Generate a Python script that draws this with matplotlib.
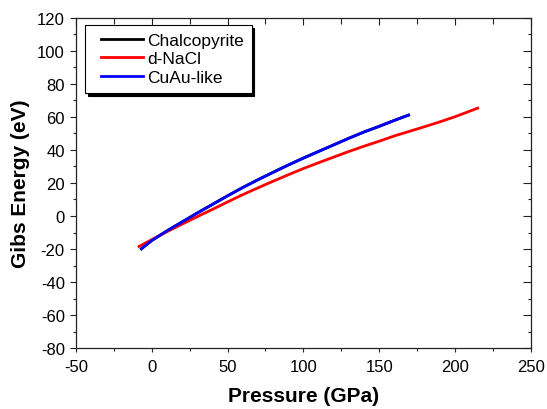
import matplotlib
matplotlib.use("Agg")
import matplotlib.pyplot as plt
from matplotlib.lines import Line2D
from matplotlib.legend_handler import HandlerLine2D
from matplotlib.ticker import MultipleLocator

plt.rcParams['font.family'] = ['Liberation Sans', 'DejaVu Sans']
plt.rcParams['axes.unicode_minus'] = False

# values
cuau_p = [-6.8, 0, 10, 20, 30, 40, 50, 60, 70, 80, 90, 100, 110, 120, 130, 140, 150, 160, 169.4]
cuau_g = [-19.8, -14.8, -9.0, -3.6, 1.8, 7.0, 12.2, 17.2, 21.9, 26.4, 30.8, 35.0, 39.0,
          43.0, 47.0, 50.8, 54.2, 57.8, 61.0]
# chalcopyrite sits right under the CuAu-like curve
chalco_p = list(cuau_p)
chalco_g = list(cuau_g)
nacl_p = [-8.4, 0, 10, 20, 30, 40, 50, 60, 70, 80, 90, 100, 110, 120, 130, 140, 150, 160,
          170, 180, 190, 200, 215]
nacl_g = [-18.4, -14.3, -9.5, -4.9, -0.4, 4.0, 8.5, 12.9, 17.0, 21.0, 24.9, 28.7, 32.2,
          35.6, 39.0, 42.2, 45.2, 48.4, 51.2, 54.0, 56.9, 60.0, 65.2]

fig = plt.figure(figsize=(5.47, 4.10), dpi=100)
ax = fig.add_axes([0.1389, 0.148, 0.8313, 0.8068])

ax.plot(chalco_p, chalco_g, color='black', lw=2.0, label='Chalcopyrite')
ax.plot(nacl_p, nacl_g, color='#ff0000', lw=2.0, label='d-NaCl')
ax.plot(cuau_p, cuau_g, color='#0000ff', lw=2.0, label='CuAu-like')

for s in ax.spines.values():
    s.set_color('#222222')
    s.set_linewidth(0.9)

ax.set_xlim(-50, 250)
ax.set_ylim(-80, 120)
ax.xaxis.set_major_locator(MultipleLocator(50))
ax.xaxis.set_minor_locator(MultipleLocator(25))
ax.yaxis.set_major_locator(MultipleLocator(20))
ax.yaxis.set_minor_locator(MultipleLocator(10))
ax.tick_params(which='both', direction='out', width=0.8, colors='#222222', labelcolor='black')
ax.tick_params(axis='x', which='major', length=3, labelsize=12, pad=5)
ax.tick_params(axis='x', which='minor', length=2)
ax.tick_params(axis='y', which='major', length=4.5, labelsize=12, pad=3.5)
ax.tick_params(axis='y', which='minor', length=2.2)

# mirrored ticks pointing inward on top and right
top = ax.secondary_xaxis('top')
top.xaxis.set_major_locator(MultipleLocator(50))
top.xaxis.set_minor_locator(MultipleLocator(25))
top.tick_params(which='both', direction='in', width=0.8, colors='#222222', labeltop=False)
top.tick_params(which='major', length=5)
top.tick_params(which='minor', length=4)
top.spines['top'].set_visible(False)
right = ax.secondary_yaxis('right')
right.yaxis.set_major_locator(MultipleLocator(20))
right.yaxis.set_minor_locator(MultipleLocator(10))
right.tick_params(which='both', direction='in', width=0.8, colors='#222222', labelright=False)
right.tick_params(which='major', length=6)
right.tick_params(which='minor', length=2.5)
right.spines['right'].set_visible(False)

ax.set_xlabel('Pressure (GPa)', fontsize=15, fontweight='bold', labelpad=8)
ax.set_ylabel('Gibs Energy (eV)', fontsize=15, fontweight='bold', labelpad=5)

leg = ax.legend(loc='upper left', bbox_to_anchor=(0.0198, 0.978), borderaxespad=0,
                fontsize=12.5, frameon=True, fancybox=False,
                shadow={'color': 'black', 'alpha': 1},
                edgecolor='black', framealpha=1, handlelength=2.87,
                borderpad=0.45, labelspacing=0.2, handletextpad=0.25,
                handler_map={Line2D: HandlerLine2D(xpad=0.45)})
leg.get_frame().set_linewidth(0.8)

fig.savefig('out.png', dpi=100)
